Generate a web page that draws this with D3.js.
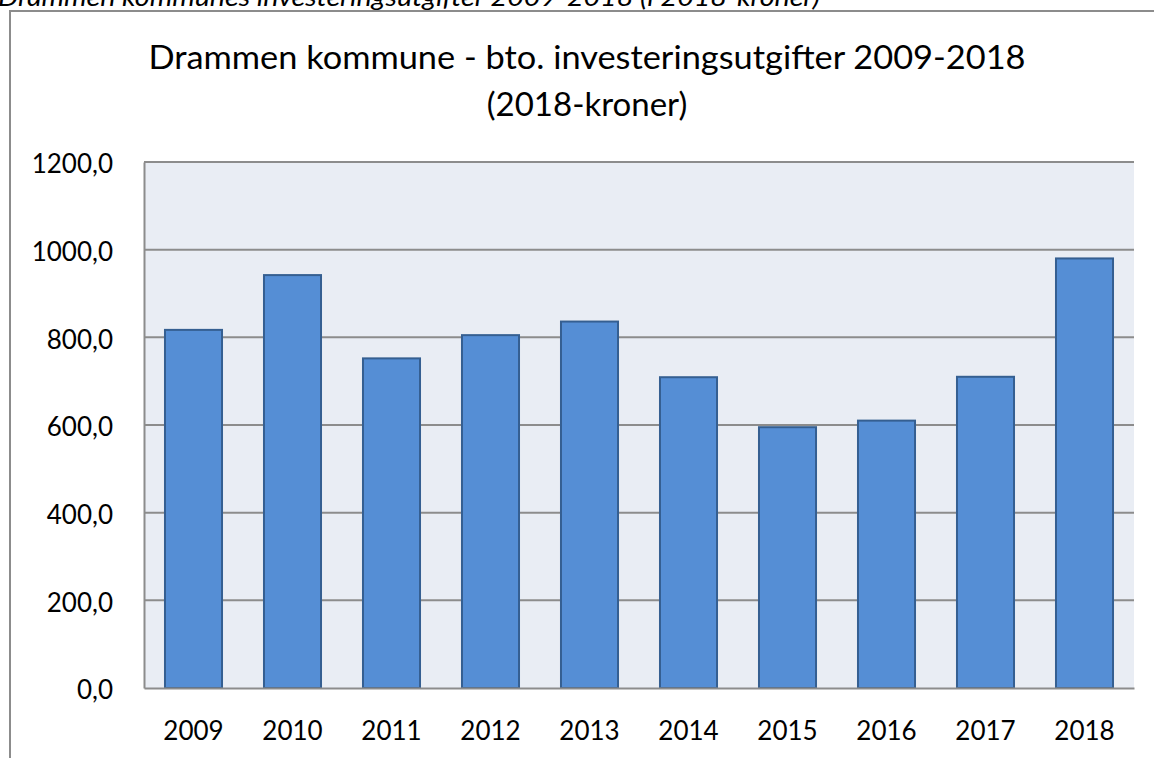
<!DOCTYPE html>
<html>
<head>
<meta charset="utf-8">
<script src="https://cdn.jsdelivr.net/npm/d3@7"></script>
<style>
  body { margin: 0; background: #fff; }
  text { font-family: Lato, "Open Sans", sans-serif; fill: #000; }
</style>
</head>
<body>
<div id="chart"></div>
<script>
// Chart data
var years = ["2009", "2010", "2011", "2012", "2013", "2014", "2015", "2016", "2017", "2018"];
var values = [817, 942, 752, 805, 836, 709, 595, 610, 710, 980];
var yTicks = [0, 200, 400, 600, 800, 1000, 1200];

var svgWidth = 1154;
var svgHeight = 758;

var margin = { top: 162, right: 20, bottom: 70, left: 144 };
var width = 1134 - margin.left;
var height = 688 - margin.top;

var svg = d3.select("#chart").append("svg")
  .attr("width", svgWidth)
  .attr("height", svgHeight);

// Cut-off caption above the chart box
svg.append("text")
  .attr("x", -2)
  .attr("y", 6)
  .attr("font-style", "italic")
  .attr("font-size", "26px")
  .attr("textLength", 822)
  .attr("lengthAdjust", "spacingAndGlyphs")
  .text("Drammen kommunes investeringsutgifter 2009-2018 (i 2018-kroner)");

// Chart box
svg.append("rect")
  .attr("x", 10)
  .attr("y", 11)
  .attr("width", 1200)
  .attr("height", 800)
  .attr("fill", "#fff")
  .attr("stroke", "#8c8c8c")
  .attr("stroke-width", 2);

// Title
var title = svg.append("text")
  .attr("text-anchor", "middle")
  .attr("font-size", "33px");
title.append("tspan").attr("x", 587).attr("y", 69)
  .attr("textLength", 877)
  .attr("lengthAdjust", "spacingAndGlyphs")
  .text("Drammen kommune  - bto. investeringsutgifter 2009-2018");
title.append("tspan").attr("x", 587).attr("y", 116)
  .text("(2018-kroner)");

var chartGroup = svg.append("g")
  .attr("transform", `translate(${margin.left}, ${margin.top})`);

// Scales
var xScale = d3.scaleBand()
  .domain(years)
  .range([0, width])
  .paddingInner(0.424)
  .paddingOuter(0.212);

var yScale = d3.scaleLinear()
  .domain([0, 1200])
  .range([height, 0]);

// Plot background
chartGroup.append("rect")
  .attr("width", width)
  .attr("height", height)
  .attr("fill", "#e9edf4");

// Gridlines
chartGroup.selectAll(".grid")
  .data(yTicks.filter(d => d > 0))
  .enter()
  .append("line")
  .attr("x1", 0)
  .attr("x2", width)
  .attr("y1", d => yScale(d))
  .attr("y2", d => yScale(d))
  .attr("stroke", "#8c8c8c")
  .attr("stroke-width", 2);

// Bars
chartGroup.selectAll(".bar")
  .data(values)
  .enter()
  .append("rect")
  .attr("x", (d, i) => xScale(years[i]))
  .attr("y", d => yScale(d))
  .attr("width", xScale.bandwidth())
  .attr("height", d => height - yScale(d))
  .attr("fill", "#558ed5")
  .attr("stroke", "#355f91")
  .attr("stroke-width", 2);

// Axes
var leftAxis = d3.axisLeft(yScale)
  .tickValues(yTicks)
  .tickSize(0)
  .tickPadding(31)
  .tickFormat(d => d3.format(".1f")(d).replace(".", ","));

var bottomAxis = d3.axisBottom(xScale)
  .tickSize(0)
  .tickPadding(34);

var yAxisG = chartGroup.append("g").call(leftAxis);
var xAxisG = chartGroup.append("g")
  .attr("transform", `translate(0, ${height})`)
  .call(bottomAxis);

[yAxisG, xAxisG].forEach(function(g) {
  g.select(".domain").attr("stroke", "#8c8c8c").attr("stroke-width", 2);
  g.selectAll("text")
    .attr("font-family", "Lato, 'Open Sans', sans-serif")
    .attr("font-size", "26px")
    .attr("fill", "#000");
});
yAxisG.selectAll("text").attr("dy", "0.42em");
</script>
</body>
</html>
